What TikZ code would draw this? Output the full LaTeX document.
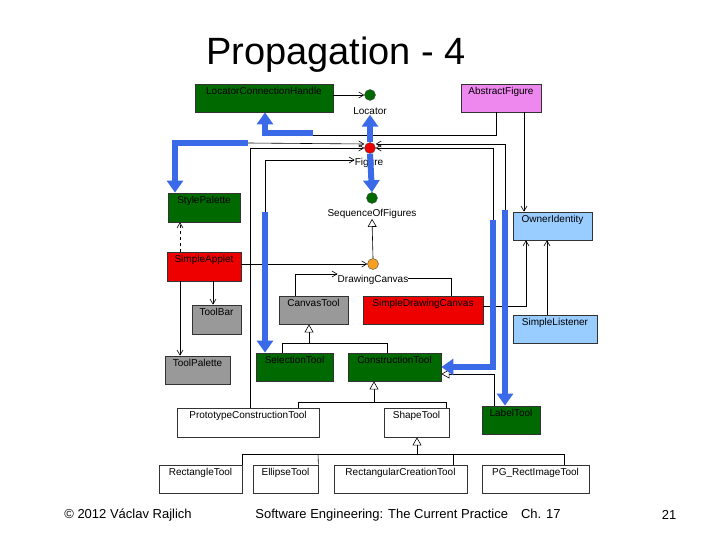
\documentclass[tikz,border=0pt]{standalone}
\usepackage{fontspec}
\setmainfont{Liberation Sans}
\usetikzlibrary{arrows.meta,calc}
\definecolor{dg}{HTML}{006A00}
\definecolor{rd}{HTML}{EE0000}
\definecolor{gy}{HTML}{999999}
\definecolor{pk}{HTML}{EE88EE}
\definecolor{lb}{HTML}{99CCFF}
\definecolor{bl}{HTML}{3A6AE8}
\definecolor{og}{HTML}{F5A020}
\newcommand{\bx}[7]{\node[box,fill=#6,minimum width={#4-#2},minimum height={#5-#3}] (#1) at ({(#2+#4)/2},{(#3+#5)/2}) {};
\node[lbl,anchor=north] at ($(#1.north)+(0,3)$) {#7};}
\begin{document}
\begin{tikzpicture}[x=1pt,y=-1pt,
 box/.style={draw=black!80,line width=0.8pt,inner sep=0pt},
 lbl/.style={font=\fontsize{10}{12}\selectfont,inner sep=0pt},
 ln/.style={draw,line width=0.6pt},
 oa/.style={ln,-{Straight Barb[length=5pt,width=6pt]}},
 tri/.style={ln,-{Triangle[open,length=8pt,width=9pt,fill=white]}},
 big/.style={draw=bl,line width=6pt,-{Triangle[length=12pt,width=16pt]}},
 bw/.style={draw=bl,line width=6pt},
 dot/.style={circle,draw=black!70,minimum size=11pt,inner sep=0pt}]
\fill[white] (0,0) rectangle (720,540);
\node (title) at (336,55) {\fontsize{38}{40}\selectfont Propagation - 4};
\bx{lch}{195}{84}{333}{112}{dg}{LocatorConnectionHandle}
\bx{af}{461}{84}{541}{112}{pk}{AbstractFigure}
\bx{sp}{168}{193}{240}{222}{dg}{StylePalette}
\bx{oi}{513}{212}{592}{240}{lb}{OwnerIdentity}
\bx{sa}{167}{252}{241}{281}{rd}{SimpleApplet}
\bx{tb}{192}{305}{241}{334}{gy}{ToolBar}
\bx{ct}{279}{296}{348}{324}{gy}{CanvasTool}
\bx{sdc}{363}{296}{483}{324}{rd}{SimpleDrawingCanvas}
\bx{sl}{513}{315}{597}{343}{lb}{SimpleListener}
\bx{tp}{165}{356}{230}{384}{gy}{ToolPalette}
\bx{st}{256}{353}{333}{381}{dg}{SelectionTool}
\bx{cnt}{348}{353}{441}{381}{dg}{ConstructionTool}
\bx{pct}{177}{408}{319}{437}{white}{PrototypeConstructionTool}
\bx{sht}{384}{408}{449}{437}{white}{ShapeTool}
\bx{lt}{482}{406}{540}{434}{dg}{LabelTool}
\bx{rt}{159}{465}{242}{493}{white}{RectangleTool}
\bx{et}{253}{465}{318}{493}{white}{EllipseTool}
\bx{rct}{334}{465}{467}{493}{white}{RectangularCreationTool}
\bx{pg}{482}{465}{589}{493}{white}{PG\_RectImageTool}
\node[dot,fill=dg] (loc) at (370,95) {};
\node[lbl] (locl) at (370,111) {Locator};
\node[dot,fill=rd] (fig) at (370,148) {};
\node[lbl] (figl) at (369,163) {Figure};
\node[dot,fill=dg] (sof) at (372,198) {};
\node[lbl] (sofl) at (372,214) {SequenceOfFigures};
\node[dot,fill=og] (dc) at (373,264) {};
\node[lbl] (dcl) at (373,280) {DrawingCanvas};
% thin connectors
\draw[oa] (lch.east|-loc) -- (loc.west);
\draw[ln] (af.south-|496,0) |- (313,135);
\draw[oa] (248,143) -- ($(fig.west)+(0,-4)$);
\draw[oa] (505,210) |- ($(fig.east)+(0,-4)$);
\draw[oa] (pct.north-|250,0) |- (fig.west);
\draw[oa] (493,220) |- (fig.east);
\draw[oa] (265,212) |- ($(figl.west)+(0,-3)$);
\draw[tri] (dc.north) -- (sofl.south);
\draw[oa] (sa.east|-dc) -- (dc.west);
\draw[oa,dashed] (sa.north-|180,0) -- (sp.south-|180,0);
\draw[oa] (sa.south-|213,0) -- (tb.north-|213,0);
\draw[oa] (sa.south-|180,0) -- (tp.north-|180,0);
\draw[oa] (ct.north-|295,0) |- ($(dcl.west)+(0,-6)$);
\draw[ln] (sdc.north-|451,0) |- ($(dcl.east)+(0,-2)$);
\draw[oa] (sdc.east|-0,306) -| (oi.south-|526,0);
\draw[oa] (sl.north-|547,0) -- (oi.south-|547,0);
\draw[oa] (af.south-|524,0) -- (oi.north-|524,0);
\draw[ln] (st.north-|282,0) |- (387,343) -- (cnt.north-|387,0);
\draw[tri] (309,343) -- (ct.south-|309,0);
\draw[ln] (pct.north-|298,0) |- (446,402) -- (sht.north-|446,0);
\draw[tri] (374,402) -- (cnt.south-|374,0);
\draw[tri] (lt.north-|494,0) |- ($(cnt.east)+(0,7)$);
\draw[ln] (rt.north east) |- (564,454) -- (pg.north-|564,0);
\draw[ln] (et.north east) -- (318,454);
\draw[ln] (rct.north-|453,0) -- (453,454);
\draw[tri] (417,454) -- (sht.south-|417,0);
% blue propagation
\draw[big] (313,133) -| (lch.south-|265,0);
\draw[big] (248,143) -| (sp.north-|175,0);
\draw[big] (fig.north) -- (locl.south);
\draw[big] (fig.south) -- (sof.north);
\draw[big] (265,212) -- (st.north-|265,0);
\draw[big] (493,220) |- (cnt.east);
\draw[big] (505,210) -- (lt.north-|505,0);
% footer
\node[font=\fontsize{13}{15}\selectfont] (c) at (128,515) {© 2012 Václav Rajlich};
\node[font=\fontsize{13}{15}\selectfont] (s) at (408,515) {Software Engineering: The Current Practice\quad Ch. 17};
\node[font=\fontsize{13}{15}\selectfont] (n) at (669,515) {21};
\end{tikzpicture}
\end{document}
